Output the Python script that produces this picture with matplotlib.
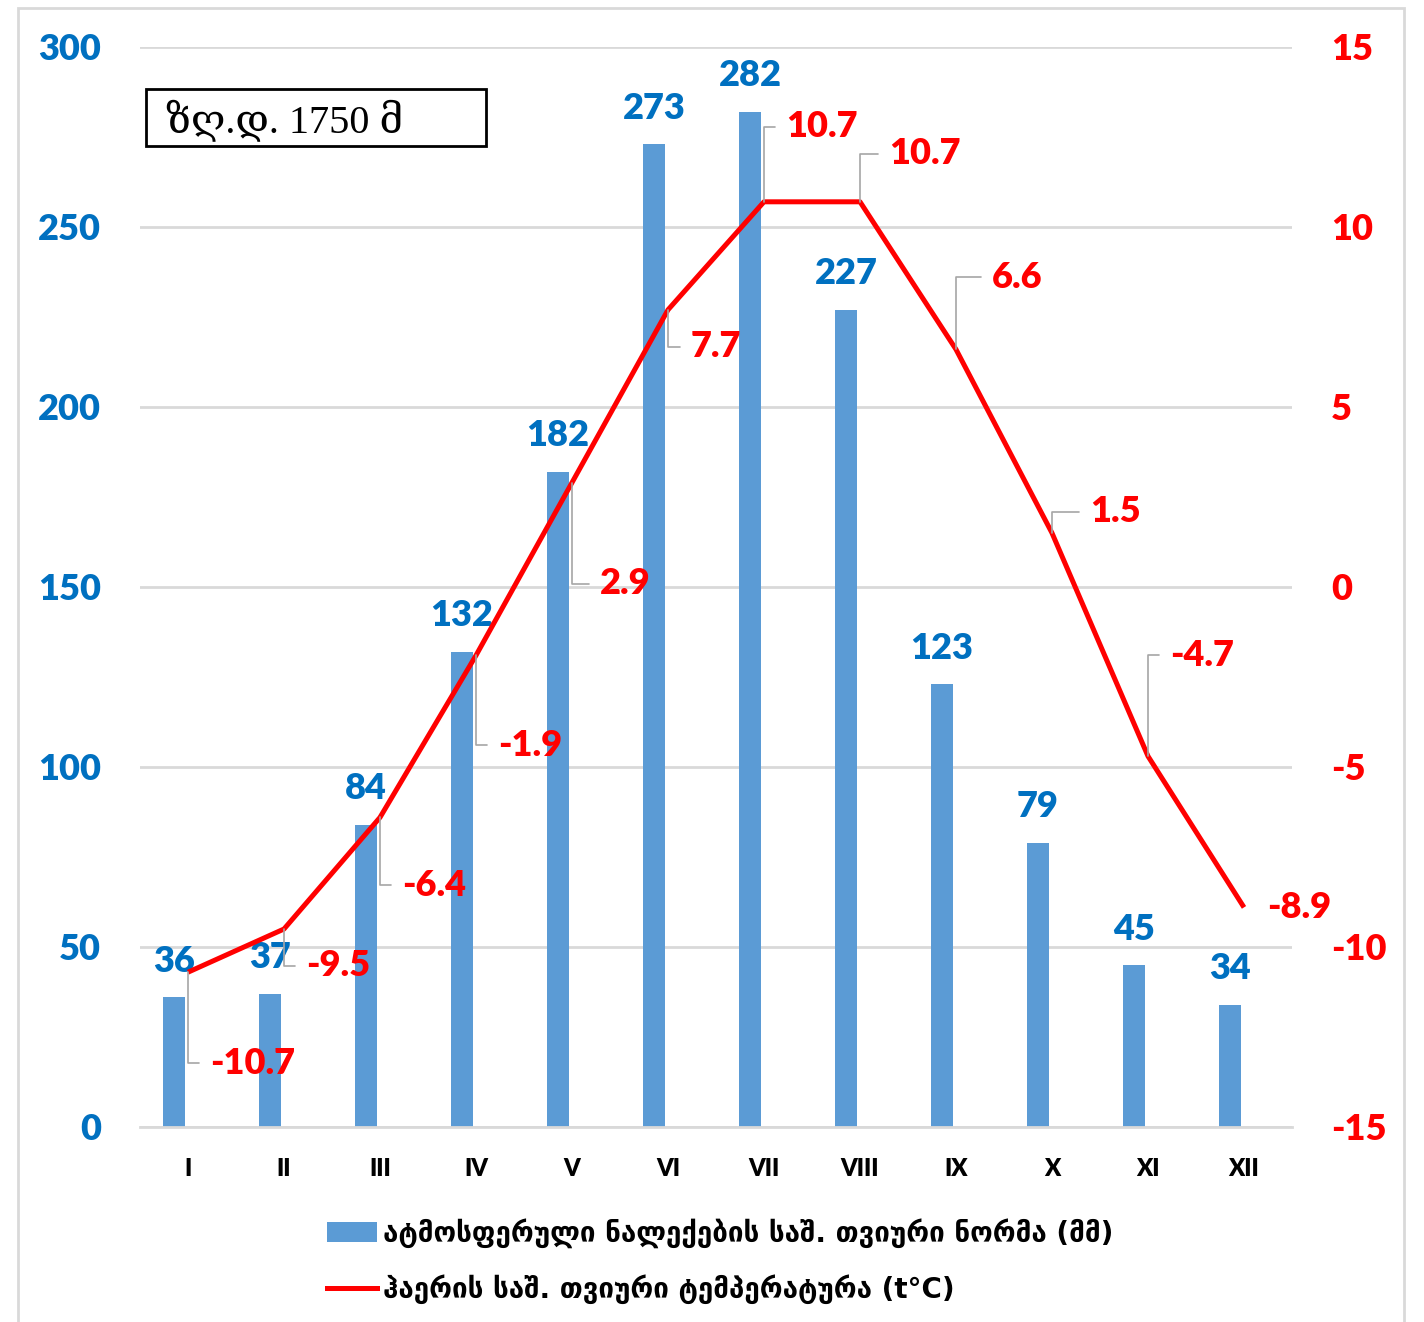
import matplotlib
matplotlib.use('Agg')
import matplotlib.pyplot as plt
from matplotlib.patches import Rectangle, Patch
from matplotlib.lines import Line2D

plt.rcParams['axes.unicode_minus'] = False

months = ['I', 'II', 'III', 'IV', 'V', 'VI', 'VII', 'VIII', 'IX', 'X', 'XI', 'XII']
precip = [36, 37, 84, 132, 182, 273, 282, 227, 123, 79, 45, 34]
temp = [-10.7, -9.5, -6.4, -1.9, 2.9, 7.7, 10.7, 10.7, 6.6, 1.5, -4.7, -8.9]
precip_ticks = [0, 50, 100, 150, 200, 250, 300]
temp_ticks = [-15, -10, -5, 0, 5, 10, 15]
precip_name = 'ატმოსფერული ნალექების საშ. თვიური ნორმა (მმ)'
temp_name = 'ჰაერის საშ. თვიური ტემპერატურა (t°C)'
station = 'ზღ.დ. 1750 მ'

# label offsets for temperature labels, in pixels (dx right, dy up)
temp_offsets = [(22, -91), (22, -37), (22, -68), (22, -90), (28, -101), (23, -37),
                (22, 75), (29, 48), (36, 72), (38, 21), (22, 101), (23, 0)]

BLUE_BAR = '#5B9BD5'
BLUE_TXT = '#0070C0'
RED = '#FF0000'
GRID = '#D9D9D9'
NUM_FONT = ['Lato', 'DejaVu Sans']
GEO_FONT = ['DejaVu Sans']
NUM_W = 'heavy'
NUM_S = 26

W, H = 1424, 1322
fig = plt.figure(figsize=(W / 100, H / 100), dpi=100)
ax = fig.add_axes([140 / W, 1 - 1127 / H, 1152 / W, 1080 / H])
ax2 = ax.twinx()

x = list(range(len(months)))
bar_x = [i - 0.146 for i in x]
ax.bar(bar_x, precip, width=0.23, color=BLUE_BAR, zorder=2)
ax.set_xlim(-0.5, 11.5)
ax.set_ylim(0, 300)
ax.set_yticks(precip_ticks)
ax.set_xticks(x)
ax.set_xticklabels(months)
ax.grid(axis='y', color=GRID, linewidth=2, zorder=0)
ax.set_axisbelow(True)
for s in ['top', 'left', 'right']:
    ax.spines[s].set_visible(False)
ax.spines['bottom'].set_color(GRID)
ax.spines['bottom'].set_linewidth(2)
ax.tick_params(axis='both', length=0)
ax.tick_params(axis='y', pad=28)
ax.tick_params(axis='x', pad=22)
for lab in ax.get_yticklabels():
    lab.set_family(NUM_FONT)
    lab.set_fontweight(NUM_W)
    lab.set_fontsize(NUM_S)
    lab.set_color(BLUE_TXT)
for lab in ax.get_xticklabels():
    lab.set_family(NUM_FONT)
    lab.set_fontweight(NUM_W)
    lab.set_fontsize(17)
    lab.set_color('black')

for bx, v in zip(bar_x, precip):
    ax.annotate(str(v), (bx, v), xytext=(0, 36), textcoords='offset pixels',
                ha='center', va='center', fontsize=NUM_S, fontweight=NUM_W,
                family=NUM_FONT, color=BLUE_TXT, zorder=5)

ax2.plot(x, temp, color=RED, linewidth=3.6, zorder=3, solid_capstyle='butt')
ax2.set_ylim(-15, 15)
ax2.set_yticks(temp_ticks)
for s in ['top', 'left', 'right', 'bottom']:
    ax2.spines[s].set_visible(False)
ax2.tick_params(axis='y', length=0, pad=28)
for lab in ax2.get_yticklabels():
    lab.set_family(NUM_FONT)
    lab.set_fontweight(NUM_W)
    lab.set_fontsize(NUM_S)
    lab.set_color(RED)

for xi, t, (dx, dy) in zip(x, temp, temp_offsets):
    if dy == 0:
        ax2.annotate(f'{t:.1f}', (xi, t), xytext=(dx, dy), textcoords='offset pixels',
                     ha='left', va='center', fontsize=NUM_S, fontweight=NUM_W,
                     family=NUM_FONT, color=RED)
    else:
        ax2.annotate(f'{t:.1f}', (xi, t), xytext=(dx, dy), textcoords='offset pixels',
                     ha='left', va='center', fontsize=NUM_S, fontweight=NUM_W,
                     family=NUM_FONT, color=RED,
                     arrowprops=dict(arrowstyle='-', color='#A6A6A6', lw=1.2,
                                     connectionstyle='angle,angleA=0,angleB=90,rad=0',
                                     relpos=(0, 0.5), shrinkA=6, shrinkB=0))

# station height box
fig.add_artist(Rectangle((146 / W, 1 - 146 / H), 340 / W, 57 / H, transform=fig.transFigure,
                         fill=False, edgecolor='black', linewidth=2))
fig.text(166 / W, 1 - 121 / H, station, ha='left', va='center', fontsize=29,
         family=['Liberation Serif', 'DejaVu Serif'])

# outer frame
fig.add_artist(Rectangle((18 / W, -0.01), 1386 / W, 1.01 - 8 / H, transform=fig.transFigure,
                         fill=False, edgecolor=GRID, linewidth=2))

handles = [Patch(facecolor=BLUE_BAR), Line2D([0], [0], color=RED, linewidth=3.6)]
fig.legend(handles, [precip_name, temp_name], loc='upper left',
           bbox_to_anchor=(327 / W, 1 - 1218 / H), frameon=False, borderpad=0,
           borderaxespad=0, handlelength=1.8, handleheight=0.7, handletextpad=0.22,
           labelspacing=0.95, prop={'family': GEO_FONT, 'size': 20, 'weight': 'bold'})

fig.savefig('out.png', dpi=100)
